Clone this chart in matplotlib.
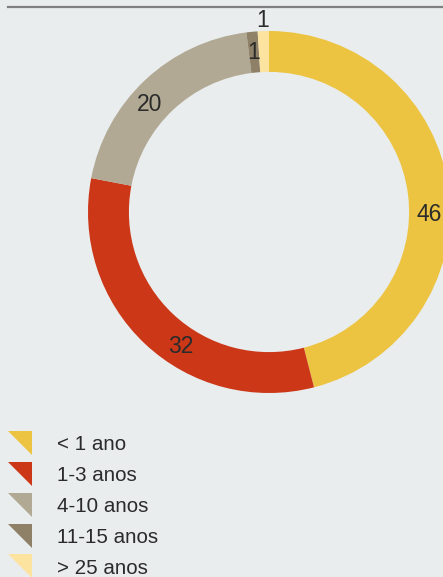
import numpy as np
import matplotlib.pyplot as plt
from matplotlib.lines import Line2D

# DATA
categories = ['< 1 ano', '1-3 anos', '4-10 anos', '11-15 anos', '> 25 anos']
values = [46, 32, 20, 1, 1]
colors = ['#EDC441', '#CC3718', '#B2A994', '#8E8168', '#FDE3A0']

# label placement tweaks (degrees shifted clockwise, radius factor)
label_shift = [8, -10, -5, 0, 0]
label_radius = [0.887, 0.887, 0.887, 0.887, 1.06]

BG = '#E9EDEE'
TEXT = '#2b2b2b'
W, H = 443, 577

plt.rcParams['font.family'] = ['Liberation Sans', 'DejaVu Sans']

fig = plt.figure(figsize=(W / 100, H / 100), dpi=100, facecolor=BG)

# top rule
fig.add_artist(Line2D([8 / W, 1], [1 - 6.5 / H, 1 - 6.5 / H], color='#808080', lw=1.6))

# donut: center (269, 212) px, outer radius 181 px
cx, cy, r = 269, 212, 181
ax = fig.add_axes([(cx - r) / W, (H - cy - r) / H, 2 * r / W, 2 * r / H])
ax.set_facecolor(BG)
wedges, _ = ax.pie(values, colors=colors, startangle=90, counterclock=False,
                   radius=1, wedgeprops=dict(width=0.226, linewidth=0))
for w, v, sh, rl in zip(wedges, values, label_shift, label_radius):
    mid = np.deg2rad((w.theta1 + w.theta2) / 2 - sh)
    ax.text(rl * np.cos(mid), rl * np.sin(mid), str(v), ha='center', va='center',
            fontsize=16.5, color=TEXT)
ax.set_xlim(-1, 1)
ax.set_ylim(-1, 1)
ax.axis('off')

# legend with triangle markers (last row is clipped by the bottom edge, as in the source)
tri = [(-1, 1), (1, 1), (1, -1)]
handles = [Line2D([], [], linestyle='none', marker=tri, markersize=17.3,
                  markerfacecolor=c, markeredgewidth=0) for c in colors]
fig.legend(handles, categories, loc='upper left', bbox_to_anchor=(5.6 / W, 1 - 435 / H),
           frameon=False, fontsize=14.8, labelcolor=TEXT, handlelength=1.4,
           handletextpad=1.1, labelspacing=0.58, borderpad=0, borderaxespad=0)

fig.savefig('out.png', dpi=100, facecolor=BG)
